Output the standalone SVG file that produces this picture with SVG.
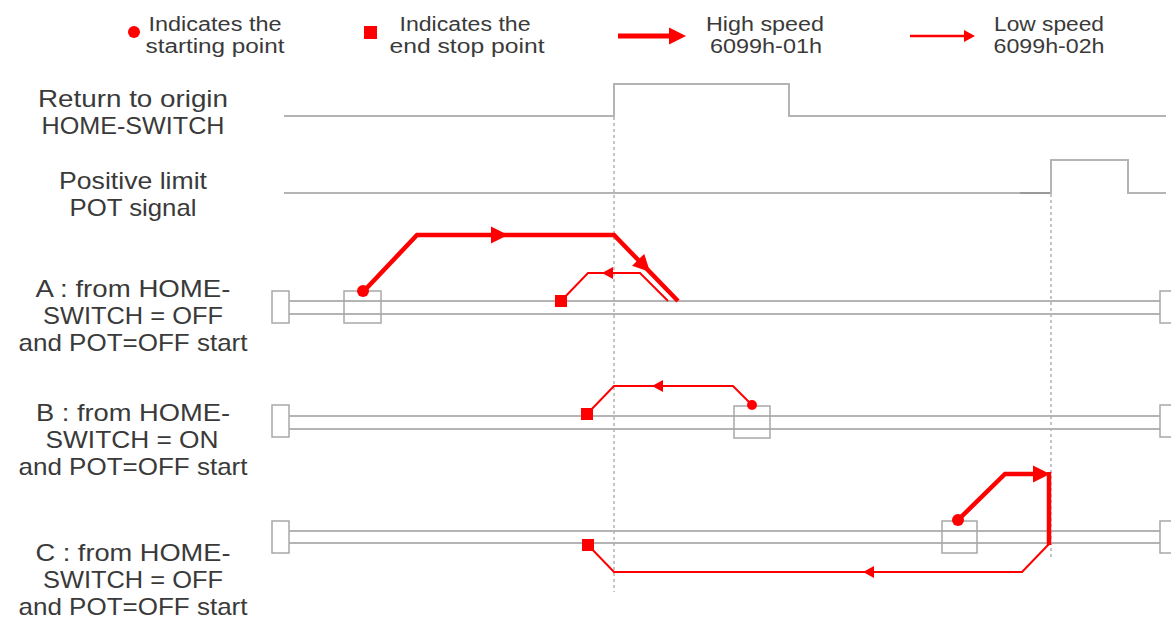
<svg xmlns="http://www.w3.org/2000/svg" xmlns:xlink="http://www.w3.org/1999/xlink" width="1171" height="622" viewBox="0 0 1171 622">
<style>
.lbl{font-family:"Liberation Sans",Arial,sans-serif;font-size:24px;fill:#3a3a3a;text-anchor:middle}
.leg{font-family:"Liberation Sans",Arial,sans-serif;font-size:19.5px;fill:#3a3a3a;text-anchor:middle}
.sig{fill:none;stroke:#b4b4b4;stroke-width:2}
.rail{fill:none;stroke:#b4b4b4;stroke-width:2}
.box{fill:none;stroke:#a8a8a8;stroke-width:1.5}
.dash{fill:none;stroke:#8a8a8a;stroke-width:1;stroke-dasharray:3,3}
.thick{fill:none;stroke:#ff0000;stroke-width:4.5;stroke-linejoin:miter}
.thin{fill:none;stroke:#ff0000;stroke-width:2;stroke-linejoin:miter}
.red{fill:#ff0000}
</style>
<defs>
<polygon id="ahT" points="0,0 -17,-8.5 -17,8.5"/>
<polygon id="aht" points="0,0 -11,-6 -11,6"/>
</defs>
<rect width="1171" height="622" fill="#ffffff"/>

<g id="legend">
<circle class="red" cx="134" cy="32" r="6"/>
<text class="leg" x="215" y="31" textLength="133" lengthAdjust="spacingAndGlyphs">Indicates the</text>
<text class="leg" x="215" y="53" textLength="139" lengthAdjust="spacingAndGlyphs">starting point</text>
<rect class="red" x="364" y="26" width="13" height="13"/>
<text class="leg" x="465" y="31" textLength="131" lengthAdjust="spacingAndGlyphs">Indicates the</text>
<text class="leg" x="467" y="53" textLength="155" lengthAdjust="spacingAndGlyphs">end stop point</text>
<line x1="618" y1="36" x2="670" y2="36" stroke="#ff0000" stroke-width="5"/>
<use xlink:href="#ahT" class="red" transform="translate(686,36)"/>
<text class="leg" x="765" y="31" textLength="118" lengthAdjust="spacingAndGlyphs">High speed</text>
<text class="leg" x="766" y="53" textLength="112" lengthAdjust="spacingAndGlyphs">6099h-01h</text>
<line x1="910" y1="36" x2="964" y2="36" stroke="#ff0000" stroke-width="2.5"/>
<use xlink:href="#aht" class="red" transform="translate(975,36)"/>
<text class="leg" x="1049" y="31" textLength="110" lengthAdjust="spacingAndGlyphs">Low speed</text>
<text class="leg" x="1049" y="53" textLength="111" lengthAdjust="spacingAndGlyphs">6099h-02h</text>
</g>

<g id="labels">
<text class="lbl" x="133" y="107" textLength="190" lengthAdjust="spacingAndGlyphs">Return to origin</text>
<text class="lbl" x="133" y="134" textLength="183" lengthAdjust="spacingAndGlyphs">HOME-SWITCH</text>
<text class="lbl" x="133" y="189" textLength="148" lengthAdjust="spacingAndGlyphs">Positive limit</text>
<text class="lbl" x="133" y="216" textLength="127" lengthAdjust="spacingAndGlyphs">POT signal</text>
<text class="lbl" x="133" y="297" textLength="195" lengthAdjust="spacingAndGlyphs">A : from HOME-</text>
<text class="lbl" x="133" y="324" textLength="180" lengthAdjust="spacingAndGlyphs">SWITCH = OFF</text>
<text class="lbl" x="133" y="351" textLength="229" lengthAdjust="spacingAndGlyphs">and POT=OFF start</text>
<text class="lbl" x="133" y="421" textLength="194" lengthAdjust="spacingAndGlyphs">B : from HOME-</text>
<text class="lbl" x="132" y="448" textLength="173" lengthAdjust="spacingAndGlyphs">SWITCH = ON</text>
<text class="lbl" x="133" y="475" textLength="229" lengthAdjust="spacingAndGlyphs">and POT=OFF start</text>
<text class="lbl" x="133" y="561" textLength="195" lengthAdjust="spacingAndGlyphs">C : from HOME-</text>
<text class="lbl" x="133" y="588" textLength="180" lengthAdjust="spacingAndGlyphs">SWITCH = OFF</text>
<text class="lbl" x="133" y="615" textLength="229" lengthAdjust="spacingAndGlyphs">and POT=OFF start</text>
</g>

<g id="signals">
<polyline class="sig" points="284,116 614,116 614,84 789,84 789,116 1166,116"/>
<polyline class="sig" points="284,193 1051,193 1051,160 1128,160 1128,193 1166,193"/>
<line x1="1020" y1="193" x2="1050" y2="193" stroke="#999" stroke-width="2"/>
</g>

<g id="guides">
<line class="dash" x1="614" y1="117" x2="614" y2="592"/>
<line class="dash" x1="1051" y1="194" x2="1051" y2="560"/>
</g>

<g id="railA">
<line class="rail" x1="289" y1="301" x2="1160" y2="301"/>
<line class="rail" x1="289" y1="314" x2="1160" y2="314"/>
<rect class="box" x="272" y="291" width="17" height="32"/>
<rect class="box" x="1160" y="291" width="17" height="32"/>
<rect class="box" x="344" y="291" width="37" height="32"/>
</g>
<g id="railB">
<line class="rail" x1="289" y1="416" x2="1160" y2="416"/>
<line class="rail" x1="289" y1="429" x2="1160" y2="429"/>
<rect class="box" x="272" y="405" width="17" height="32"/>
<rect class="box" x="1160" y="405" width="17" height="32"/>
<rect class="box" x="734" y="406" width="36" height="32"/>
</g>
<g id="railC">
<line class="rail" x1="289" y1="531" x2="1160" y2="531"/>
<line class="rail" x1="289" y1="543" x2="1160" y2="543"/>
<rect class="box" x="272" y="521" width="17" height="32"/>
<rect class="box" x="1160" y="521" width="17" height="32"/>
<rect class="box" x="942" y="521" width="35" height="32"/>
</g>

<g id="connectors">
<polyline class="thick" points="363,292 417,235 614,235 678,301"/>
<use xlink:href="#ahT" class="red" transform="translate(508,235)"/>
<use xlink:href="#ahT" class="red" transform="translate(650,272) rotate(45.9)"/>
<polyline class="thin" points="668,301 640,273 588,273 561,301"/>
<use xlink:href="#aht" class="red" transform="translate(602,273) rotate(180)"/>
<circle class="red" cx="363" cy="291" r="6"/>
<rect class="red" x="555" y="295" width="12" height="12"/>

<polyline class="thin" points="752,405 733,386 614,386 587,414"/>
<use xlink:href="#aht" class="red" transform="translate(652,386) rotate(180)"/>
<circle class="red" cx="752" cy="405" r="5"/>
<rect class="red" x="581" y="408" width="12" height="12"/>

<polyline class="thick" points="958,520 1005,474 1040,474"/>
<use xlink:href="#ahT" class="red" transform="translate(1050,474)"/>
<line class="thick" x1="1049" y1="472" x2="1049" y2="545"/>
<polyline class="thin" points="1049,544 1022,572 614,572 588,545"/>
<use xlink:href="#aht" class="red" transform="translate(863,572) rotate(180)"/>
<circle class="red" cx="958" cy="520" r="6"/>
<rect class="red" x="582" y="539" width="12" height="12"/>
</g>
</svg>
